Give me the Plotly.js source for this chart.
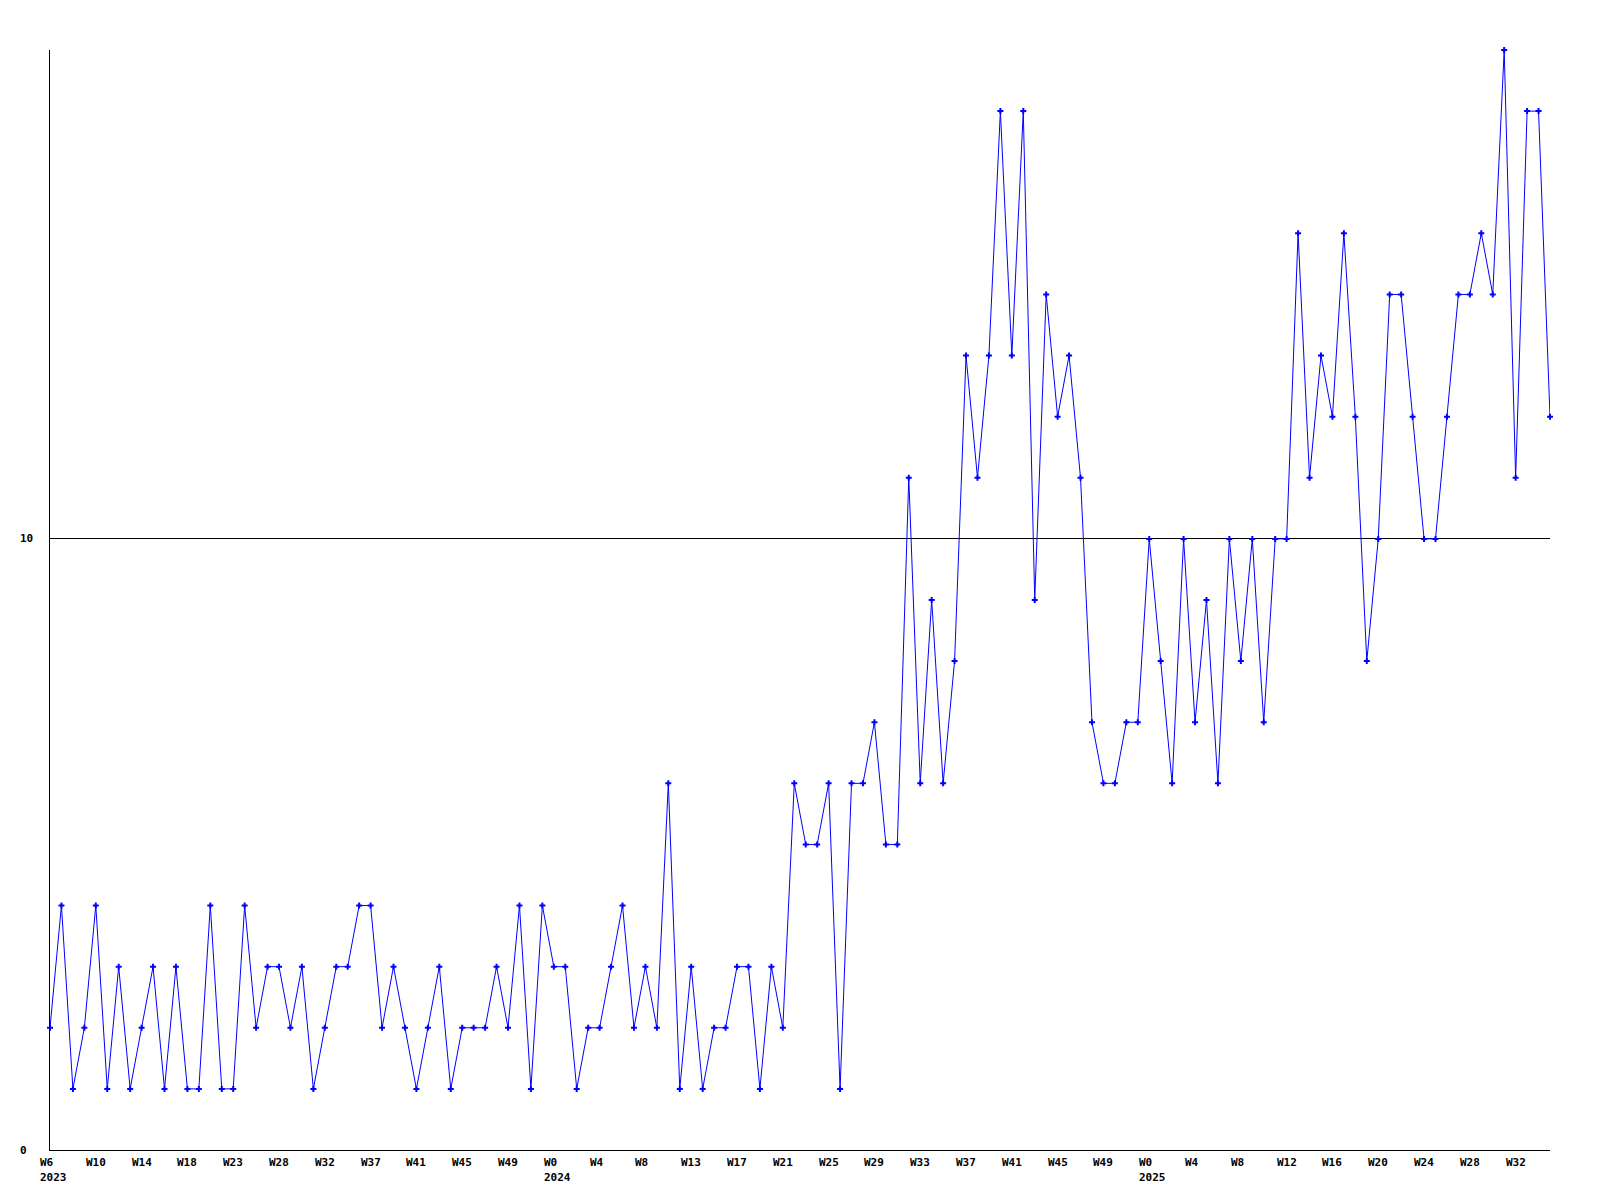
<!DOCTYPE html>
<html>
<head>
<meta charset="utf-8">
<script src="https://cdn.plot.ly/plotly-3.0.1.min.js"></script>
<style>html,body{margin:0;padding:0;background:#fff;}#chart{width:1600px;height:1200px;}</style>
</head>
<body>
<div id="chart"></div>
<script>
// Weekly counts, 2023 W6 .. 2025 W~34 (one value per point)
const values = [
  2,4,1,2,4,1,3,1,2,3,1,3,1,1,4,1,1,4,2,3,3,2,3,1,2,
  3,3,4,4,2,3,2,1,2,3,1,2,2,2,3,2,4,1,4,3,3,1,2,2,3,
  4,2,3,2,6,1,3,1,2,2,3,3,1,3,2,6,5,5,6,1,6,6,7,5,5,
  11,6,9,6,8,13,11,13,17,13,17,9,14,12,13,11,7,6,6,7,7,
  10,8,6,10,7,9,6,10,8,10,7,10,10,15,11,13,12,15,12,8,10,
  14,14,12,10,10,12,14,14,15,14,18,11,17,17,12
];
// Tick labels, one every 4 points
const weekLabels = ["W6","W10","W14","W18","W23","W28","W32","W37","W41","W45","W49",
  "W0","W4","W8","W13","W17","W21","W25","W29","W33","W37","W41","W45","W49",
  "W0","W4","W8","W12","W16","W20","W24","W28","W32"];
const yearLabels = {0:"2023", 11:"2024", 24:"2025"};
const tickStep = 4;
const yTicks = [0, 10];
const yMax = 18;

const idx = values.map((v, i) => i);
const font = {family: "DejaVu Sans Mono, Liberation Mono, monospace", size: 11, color: "#000", weight: "bold"};

const annotations = [];
weekLabels.forEach((w, k) => {
  annotations.push({x: k * tickStep, xref: "x", y: 0, yref: "paper", yanchor: "middle", xanchor: "left",
    xshift: -11, yshift: -12, text: "<b>" + w + "</b>", showarrow: false, font: font, borderpad: 0});
  if (yearLabels[k]) {
    annotations.push({x: k * tickStep, xref: "x", y: 0, yref: "paper", yanchor: "middle", xanchor: "left",
      xshift: -11, yshift: -27, text: "<b>" + yearLabels[k] + "</b>", showarrow: false, font: font, borderpad: 0});
  }
});
yTicks.forEach(t => {
  annotations.push({x: 0, xref: "paper", y: t, yref: "y", xanchor: "left", yanchor: "middle",
    xshift: -31, text: "<b>" + t + "</b>", showarrow: false, font: font, borderpad: 0});
});

const trace = {
  x: idx, y: values, type: "scatter", mode: "lines+markers",
  line: {color: "#0000ff", width: 1},
  marker: {symbol: "cross", size: 5, color: "#0000ff", line: {width: 0}},
  cliponaxis: false, hoverinfo: "skip"
};

const layout = {
  width: 1600, height: 1200,
  margin: {l: 50, r: 50, t: 50, b: 50, pad: 0},
  paper_bgcolor: "#fff", plot_bgcolor: "#fff",
  showlegend: false,
  xaxis: {range: [0, values.length - 1], showgrid: false, zeroline: false, showticklabels: false,
    ticks: "", showline: true, linecolor: "#000", linewidth: 1, mirror: false, fixedrange: true},
  yaxis: {range: [0, yMax], tickvals: yTicks, showticklabels: false, ticks: "",
    showgrid: true, gridcolor: "#000", gridwidth: 1, zeroline: false,
    showline: true, linecolor: "#000", linewidth: 1, fixedrange: true},
  annotations: annotations
};

Plotly.newPlot("chart", [trace], layout, {staticPlot: true, displayModeBar: false});
</script>
</body>
</html>
